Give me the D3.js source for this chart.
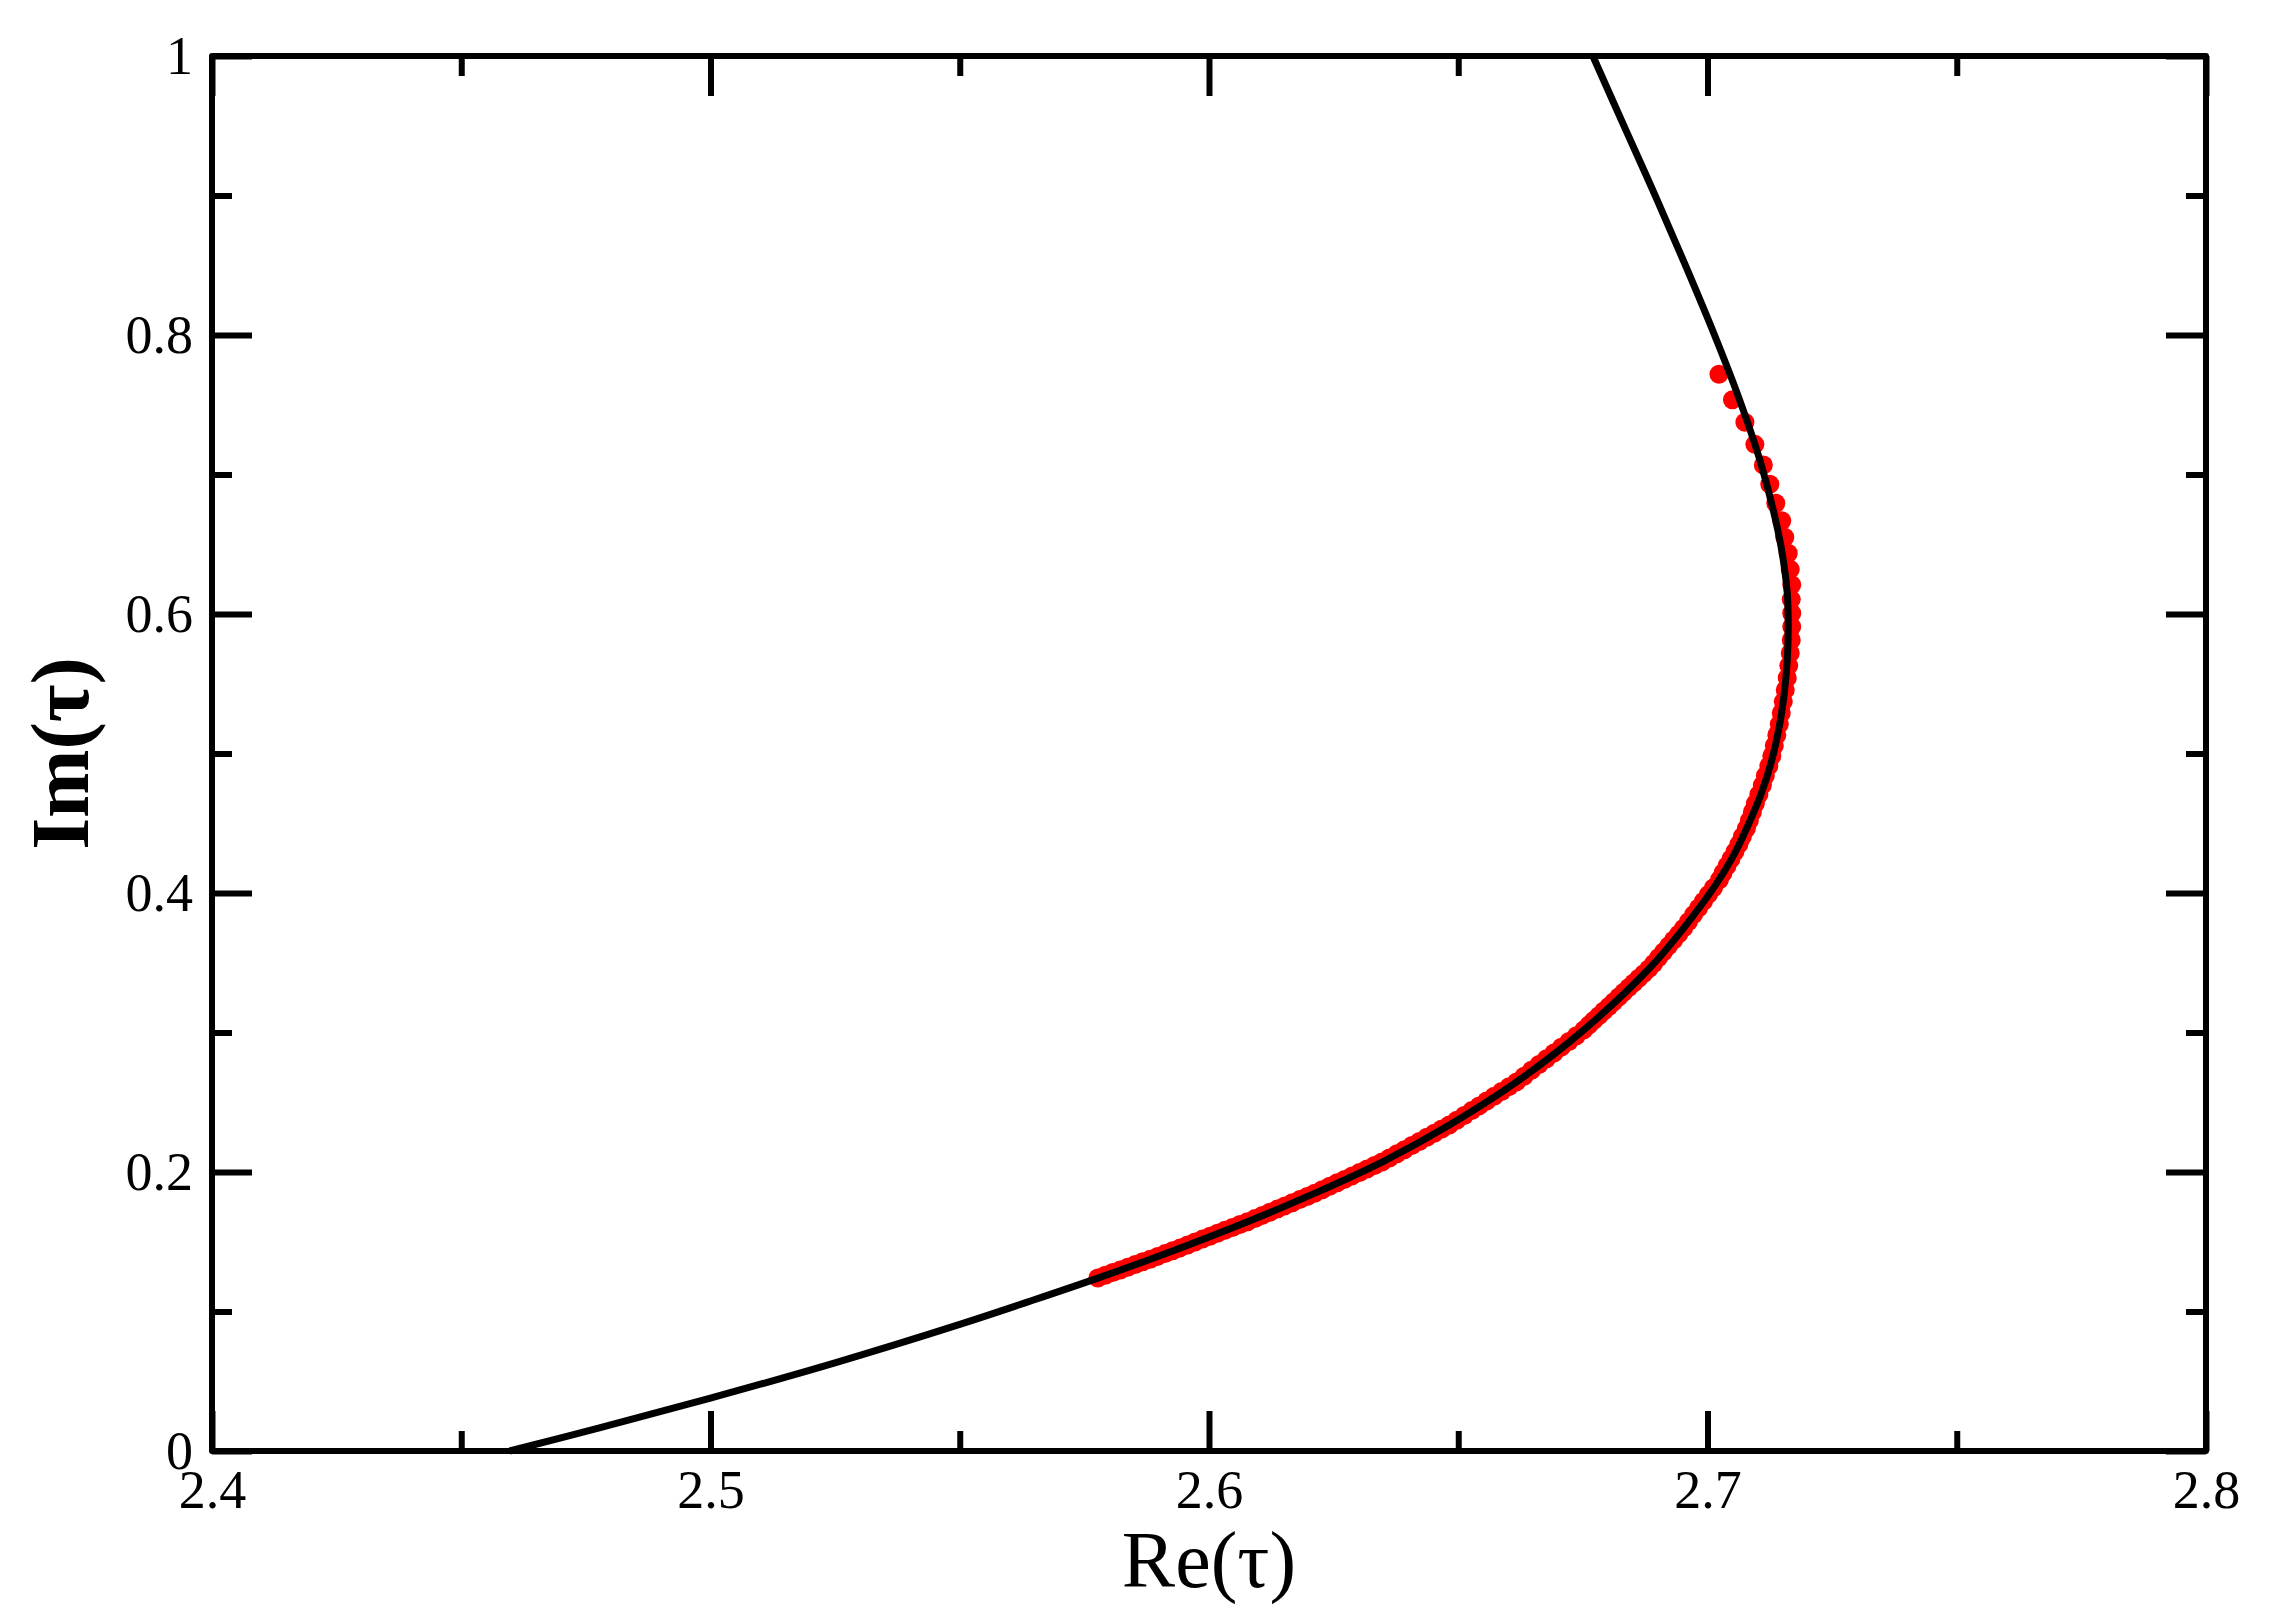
<!DOCTYPE html>
<html>
<head>
<meta charset="utf-8">
<script src="https://cdn.jsdelivr.net/npm/d3@7"></script>
<style>
  html, body { margin: 0; padding: 0; background: #fff; }
  svg { display: block; }
</style>
</head>
<body>
<svg id="chart" width="2269" height="1612"></svg>
<script>
// ---------------- data ----------------
const xDomain = [2.4, 2.8];
const yDomain = [0, 1];
const xMajorTicks = [2.4, 2.5, 2.6, 2.7, 2.8];
const xMinorTicks = [2.45, 2.55, 2.65, 2.75];
const yMajorTicks = [0, 0.2, 0.4, 0.6, 0.8, 1];
const yMinorTicks = [0.1, 0.3, 0.5, 0.7, 0.9];
const xTickLabels = ["2.4", "2.5", "2.6", "2.7", "2.8"];
const yTickLabels = ["0", "0.2", "0.4", "0.6", "0.8", "1"];
const xTitle = "Re(τ)";
const yTitle = "Im(τ)";

// black curve
const curveX = [2.4597, 2.4779, 2.5000, 2.5253, 2.5500, 2.5645, 2.5774, 2.5908, 2.6076, 2.6216,
  2.6350, 2.6483, 2.6617, 2.6751, 2.6885, 2.6951, 2.7018, 2.7052, 2.7080, 2.7108,
  2.7129, 2.7144, 2.7154, 2.7160, 2.7162, 2.7160, 2.7152, 2.7141, 2.7107, 2.7062,
  2.7010, 2.6954, 2.6896, 2.6836, 2.6770];
const curveY = [0.0000, 0.0167, 0.0379, 0.0636, 0.0908, 0.1079, 0.1236, 0.1409, 0.1642, 0.1854,
  0.2077, 0.2339, 0.2646, 0.3016, 0.3466, 0.3743, 0.4067, 0.4268, 0.4475, 0.4715,
  0.4953, 0.5192, 0.5432, 0.5670, 0.5909, 0.6148, 0.6387, 0.6602, 0.7080, 0.7558,
  0.8036, 0.8514, 0.8992, 0.9470, 1.0000];

// red points
const dotsX = [
  2.7023, 2.7050, 2.7075, 2.7095, 2.7112, 2.7125, 2.7137, 2.7149, 2.7155, 2.7162, 2.7166, 2.7169,
  2.7168, 2.7169, 2.7169, 2.7168, 2.7166, 2.7163, 2.7160, 2.7156, 2.7152, 2.7148, 2.7144, 2.7139,
  2.7134, 2.7129, 2.7123, 2.7116, 2.7110, 2.7103, 2.7096, 2.7090, 2.7084, 2.7078, 2.7070, 2.7063,
  2.7055, 2.7047, 2.7039, 2.7031, 2.7024,
  2.7012, 2.7002, 2.6992, 2.6982, 2.6972, 2.6962, 2.6952, 2.6942, 2.6932, 2.6922, 2.6912, 2.6902,
  2.6892, 2.6882, 2.6872, 2.6862, 2.6852, 2.6842, 2.6832, 2.6822, 2.6812, 2.6802, 2.6792, 2.6782,
  2.6772, 2.6762, 2.6752,
  2.6737, 2.6722, 2.6707, 2.6692, 2.6677, 2.6662, 2.6647, 2.6632, 2.6617,
  2.6602, 2.6587, 2.6572, 2.6557, 2.6542, 2.6527, 2.6512, 2.6497, 2.6482,
  2.6467, 2.6452, 2.6437, 2.6422, 2.6407, 2.6392, 2.6377, 2.6362, 2.6347,
  2.6332, 2.6317, 2.6302, 2.6287, 2.6272, 2.6257, 2.6242, 2.6227, 2.6212,
  2.6197, 2.6182, 2.6167, 2.6152, 2.6137, 2.6122, 2.6107, 2.6092, 2.6077,
  2.6062, 2.6047, 2.6032, 2.6017, 2.6002, 2.5987, 2.5972, 2.5957, 2.5942, 2.5927, 2.5912,
  2.5897, 2.5882, 2.5867, 2.5852, 2.5837, 2.5822, 2.5807, 2.5792, 2.5777
];
const dotsY = [
  0.7718, 0.7536, 0.7374, 0.7216, 0.7068, 0.6930, 0.6794, 0.6669, 0.6550, 0.6435, 0.6320, 0.6210,
  0.6105, 0.6005, 0.5908, 0.5813, 0.5720, 0.5630, 0.5542, 0.5456, 0.5372, 0.5290, 0.5210, 0.5132,
  0.5056, 0.4982, 0.4910, 0.4840, 0.4772, 0.4706, 0.4642, 0.4580, 0.4520, 0.4462, 0.4405, 0.4350,
  0.4296, 0.4244, 0.4193, 0.4143, 0.4095,
  0.4038, 0.3990, 0.3941, 0.3893, 0.3845, 0.3796, 0.3748, 0.3705, 0.3663, 0.3621, 0.3579, 0.3537,
  0.3495, 0.3456, 0.3422, 0.3389, 0.3355, 0.3322, 0.3288, 0.3254, 0.3221, 0.3187, 0.3154, 0.3120,
  0.3087, 0.3053, 0.3019,
  0.2977, 0.2936, 0.2895, 0.2853, 0.2812, 0.2770, 0.2729, 0.2687, 0.2646,
  0.2612, 0.2577, 0.2543, 0.2509, 0.2474, 0.2440, 0.2405, 0.2371, 0.2337,
  0.2308, 0.2278, 0.2249, 0.2219, 0.2190, 0.2160, 0.2131, 0.2101, 0.2072,
  0.2047, 0.2022, 0.1997, 0.1972, 0.1947, 0.1923, 0.1898, 0.1873, 0.1848,
  0.1825, 0.1802, 0.1780, 0.1757, 0.1734, 0.1712, 0.1689, 0.1666, 0.1643,
  0.1623, 0.1602, 0.1582, 0.1561, 0.1540, 0.1519, 0.1498, 0.1477, 0.1456, 0.1436, 0.1415,
  0.1395, 0.1375, 0.1356, 0.1337, 0.1317, 0.1298, 0.1279, 0.1260, 0.1240
];

// ---------------- drawing ----------------
const svg = d3.select("#chart");
const mLeft = 212, mRight = 2206, mTop = 56, mBottom = 1451;
const x = d3.scaleLinear().domain(xDomain).range([mLeft, mRight]);
const y = d3.scaleLinear().domain(yDomain).range([mBottom, mTop]);

svg.append("rect").attr("x", 0).attr("y", 0).attr("width", 2269).attr("height", 1612).attr("fill", "#fff");

const font = "'Liberation Serif', 'Times New Roman', serif";
const majorLen = 40, minorLen = 20, tickW = 6;

function tickAxis(axisFn, scale, values, len, transform) {
  const g = svg.append("g").attr("transform", transform)
    .call(axisFn(scale).tickValues(values).tickSize(-len).tickFormat(""));
  g.select(".domain").remove();
  g.selectAll(".tick line").attr("stroke", "#000").attr("stroke-width", tickW);
  return g;
}
// inward ticks on all four sides
tickAxis(d3.axisBottom, x, xMajorTicks, majorLen, `translate(0,${mBottom})`);
tickAxis(d3.axisBottom, x, xMinorTicks, minorLen, `translate(0,${mBottom})`);
tickAxis(d3.axisTop, x, xMajorTicks, majorLen, `translate(0,${mTop})`);
tickAxis(d3.axisTop, x, xMinorTicks, minorLen, `translate(0,${mTop})`);
tickAxis(d3.axisLeft, y, yMajorTicks, majorLen, `translate(${mLeft},0)`);
tickAxis(d3.axisLeft, y, yMinorTicks, minorLen, `translate(${mLeft},0)`);
tickAxis(d3.axisRight, y, yMajorTicks, majorLen, `translate(${mRight},0)`);
tickAxis(d3.axisRight, y, yMinorTicks, minorLen, `translate(${mRight},0)`);

// tick labels
const gx = svg.append("g").attr("transform", `translate(0,${mBottom})`)
  .call(d3.axisBottom(x).tickValues(xMajorTicks).tickSize(0).tickPadding(19)
    .tickFormat((d, i) => xTickLabels[i]));
gx.select(".domain").remove();
gx.selectAll("text").attr("font-family", font).attr("font-size", 54).attr("fill", "#000");

const gy = svg.append("g").attr("transform", `translate(${mLeft},0)`)
  .call(d3.axisLeft(y).tickValues(yMajorTicks).tickSize(0).tickPadding(19)
    .tickFormat((d, i) => yTickLabels[i]));
gy.select(".domain").remove();
gy.selectAll("text").attr("font-family", font).attr("font-size", 54).attr("fill", "#000");

// axis titles
svg.append("text")
  .attr("x", (mLeft + mRight) / 2).attr("y", 1587)
  .attr("text-anchor", "middle")
  .attr("font-family", font).attr("font-size", 80)
  .text(xTitle);
svg.append("text")
  .attr("transform", `translate(88,${(mTop + mBottom) / 2}) rotate(-90)`)
  .attr("text-anchor", "middle")
  .attr("font-family", font).attr("font-size", 82).attr("font-weight", "bold")
  .text(yTitle);

// red points
const dots = dotsX.map((d, i) => ({ x: d, y: dotsY[i] }));
svg.append("g").selectAll("circle").data(dots).join("circle")
  .attr("cx", d => x(d.x)).attr("cy", d => y(d.y)).attr("r", 9.5)
  .attr("fill", "#ff0000");

// black curve
const pts = curveX.map((d, i) => [d, curveY[i]]);
svg.append("path")
  .attr("d", d3.line().x(d => x(d[0])).y(d => y(d[1])).curve(d3.curveCatmullRom.alpha(0.5))(pts))
  .attr("fill", "none").attr("stroke", "#000").attr("stroke-width", 7);

// frame
svg.append("rect")
  .attr("x", mLeft).attr("y", mTop).attr("width", mRight - mLeft).attr("height", mBottom - mTop)
  .attr("fill", "none").attr("stroke", "#000").attr("stroke-width", 6)
  .attr("stroke-linejoin", "round");
</script>
</body>
</html>
